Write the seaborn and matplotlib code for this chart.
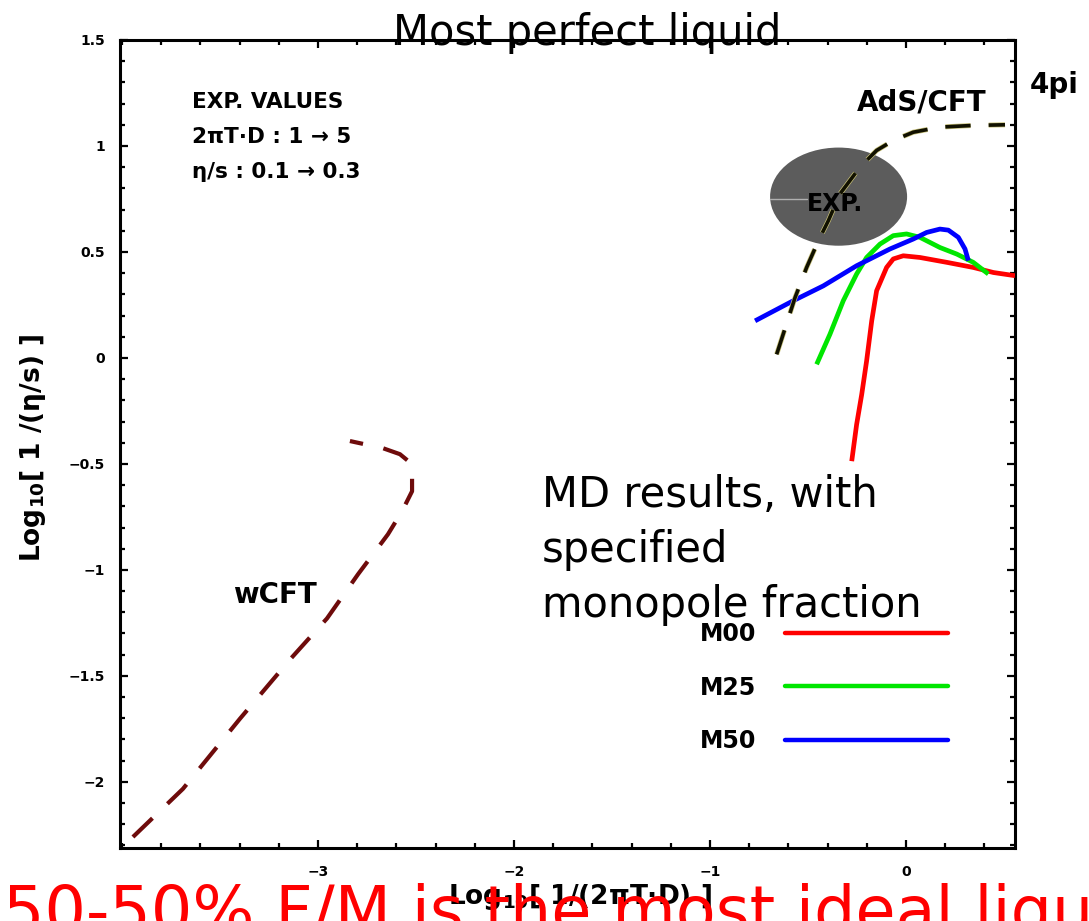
import matplotlib
matplotlib.use("Agg")
import matplotlib.pyplot as plt
from matplotlib.patches import Ellipse
from matplotlib.lines import Line2D
from matplotlib.ticker import MultipleLocator
import matplotlib.patheffects as pe
import numpy as np
import pandas as pd
import seaborn as sns

# ---- curves: log10(1/(2 pi T D)) vs log10(1/(eta/s)) ----
m00_x = [-0.277, -0.252, -0.226, -0.201, -0.175, -0.150, -0.099, -0.065, -0.014, 0.071, 0.208, 0.343, 0.446, 0.556]
m00_y = [-0.487, -0.314, -0.172, -0.014, 0.175, 0.317, 0.427, 0.467, 0.482, 0.474, 0.451, 0.427, 0.403, 0.388]

m25_x = [-0.456, -0.388, -0.320, -0.252, -0.201, -0.133, -0.065, 0.003, 0.071, 0.173, 0.259, 0.343, 0.420]
m25_y = [-0.030, 0.112, 0.270, 0.396, 0.474, 0.537, 0.577, 0.585, 0.569, 0.521, 0.490, 0.451, 0.396]

m50_x = [-0.770, -0.575, -0.422, -0.252, -0.082, 0.037, 0.105, 0.173, 0.216, 0.267, 0.301, 0.318]
m50_y = [0.175, 0.270, 0.340, 0.435, 0.514, 0.561, 0.592, 0.608, 0.603, 0.569, 0.514, 0.459]

ads_x = [-0.660, -0.566, -0.507, -0.447, -0.396, -0.337, -0.235, -0.150, -0.065, 0.037, 0.173, 0.343, 0.505]
ads_y = [0.017, 0.285, 0.427, 0.553, 0.648, 0.774, 0.900, 0.979, 1.026, 1.065, 1.089, 1.097, 1.100]

wcft_x = [-3.944, -3.689, -3.398, -3.143, -2.954, -2.796, -2.643, -2.571, -2.520, -2.520, -2.582, -2.668, -2.837]
wcft_y = [-2.260, -2.033, -1.702, -1.423, -1.229, -1.021, -0.832, -0.723, -0.629, -0.501, -0.454, -0.426, -0.392]

# experimental region (ellipse centre and extent)
exp_center = (-0.344, 0.761)
exp_width = 0.699
exp_height = 0.463

series_labels = ["M00", "M25", "M50"]
series_colors = ["#ff0000", "#00e600", "#0000ff"]

x_ticks = [-3, -2, -1, 0]
x_ticklabels = ["\u22123", "\u22122", "\u22121", "0"]
y_ticks = [-2, -1.5, -1, -0.5, 0, 0.5, 1, 1.5]
y_ticklabels = ["\u22122", "\u22121.5", "\u22121", "\u22120.5", "0", "0.5", "1", "1.5"]

md_lines = ["MD results, with", "specified", "monopole fraction"]

sns.set_style("ticks")
plt.rcParams["font.family"] = ["DejaVu Sans"]
plt.rcParams.update({"text.color": "black", "axes.labelcolor": "black",
                     "xtick.color": "black", "ytick.color": "black",
                     "axes.edgecolor": "black"})

W, H = 1089, 921
fig = plt.figure(figsize=(W / 100, H / 100), dpi=100)
ax = fig.add_axes([120 / W, 1 - 848 / H, 895 / W, 808 / H])
ax.set_xlim(-4.01, 0.556)
ax.set_ylim(-2.312, 1.5)

# experimental ellipse
ell = Ellipse(exp_center, exp_width, exp_height, facecolor="#5c5c5c", edgecolor="none", zorder=1)
ax.add_patch(ell)
exp_text_x = -0.505
ax.plot([exp_center[0] - exp_width / 2, exp_text_x], [exp_center[1] - 0.01] * 2,
        color="#b0b0b0", lw=1.0, zorder=1.5)
ax.text(exp_text_x, exp_center[1] - 0.066, "EXP.", fontsize=17, fontweight="bold",
        ha="left", va="baseline", zorder=5)

# MD results
for xs, ys, lab, col in zip([m00_x, m25_x, m50_x], [m00_y, m25_y, m50_y], series_labels, series_colors):
    df = pd.DataFrame({"x": xs, "y": ys})
    sns.lineplot(data=df, x="x", y="y", sort=False, estimator=None, color=col,
                 lw=3.4, ax=ax, zorder=3, solid_capstyle="butt", solid_joinstyle="round")

# AdS/CFT dashed curve
df_ads = pd.DataFrame({"x": ads_x, "y": ads_y})
sns.lineplot(data=df_ads, x="x", y="y", sort=False, estimator=None, color="#111100",
             lw=2.6, ax=ax, zorder=4)
ads_line = ax.lines[-1]
ads_line.set_dashes((7, 5))
ads_line.set_path_effects([pe.Stroke(linewidth=3.6, foreground="#c9c27a"), pe.Normal()])

# weak coupling curve
df_w = pd.DataFrame({"x": wcft_x, "y": wcft_y})
sns.lineplot(data=df_w, x="x", y="y", sort=False, estimator=None, color="#6e0b0b",
             lw=3.0, ax=ax, zorder=4)
ax.lines[-1].set_dashes((6.5, 5))

# axis styling
for sp in ax.spines.values():
    sp.set_linewidth(2.2)
    sp.set_color("black")
    sp.set_visible(True)
ax.set_xticks(x_ticks)
ax.set_xticklabels(x_ticklabels)
ax.set_yticks(y_ticks)
ax.set_yticklabels(y_ticklabels)
ax.xaxis.set_minor_locator(MultipleLocator(0.2))
ax.yaxis.set_minor_locator(MultipleLocator(0.1))
ax.tick_params(which="both", direction="in", top=True, right=True, width=1.6, color="black")
ax.tick_params(which="major", length=6)
ax.tick_params(which="minor", length=3.5)
ax.tick_params(axis="x", which="major", pad=12, labelsize=10)
ax.tick_params(axis="y", which="major", pad=11, labelsize=10)
for t in ax.get_xticklabels() + ax.get_yticklabels():
    t.set_fontweight("bold")

ax.set_xlabel(r"$\mathbf{Log_{10}}$[ 1/(2πT·D) ]", fontsize=19, fontweight="bold", va="center")
ax.xaxis.set_label_coords((580 - 120) / 895, -(897 - 848) / 808)
ax.set_ylabel(r"$\mathbf{Log_{10}}$[ 1 /(η/s) ]", fontsize=19, fontweight="bold", va="center")
ax.yaxis.set_label_coords((33 - 120) / 895, (848 - 448) / 808)

# annotations placed in figure pixels
def px(xp, yp):
    return (xp / W, 1 - yp / H)

fig.text(*px(192, 108), "EXP. VALUES", fontsize=15.5, fontweight="bold", va="baseline")
fig.text(*px(192, 143), "2πT·D : 1 → 5", fontsize=15.5, fontweight="bold", va="baseline")
fig.text(*px(192, 178), "η/s : 0.1 → 0.3", fontsize=15.5, fontweight="bold", va="baseline")
fig.text(*px(857, 110), "AdS/CFT", fontsize=20, fontweight="bold", va="baseline")
fig.text(*px(233, 603), "wCFT", fontsize=20, fontweight="bold", va="baseline")
fig.text(*px(1030, 93), "4pi", fontsize=20, fontweight="bold", va="baseline")

fig.text(*px(587, 45), "Most perfect liquid", fontsize=30, ha="center", va="baseline")
for i, line in enumerate(md_lines):
    fig.text(*px(542, 507 + 55 * i), line, fontsize=30, ha="left", va="baseline", zorder=6)

# legend for the MD runs
handles = [Line2D([], [], color=c, lw=3.2) for c in series_colors]
leg = ax.legend(handles, series_labels, loc="upper left",
                bbox_to_anchor=px(700, 622), bbox_transform=fig.transFigure,
                frameon=False, markerfirst=False, borderpad=0, borderaxespad=0,
                handlelength=6.9, handletextpad=1.2, labelspacing=1.25,
                prop={"weight": "bold", "size": 17})
for t in leg.get_texts():
    t.set_color("black")

fig.text(*px(3, 933), "50-50% F/M is the most ideal liquid", fontsize=47, color="#ff0000",
         ha="left", va="baseline", zorder=10)

fig.savefig("out.png", dpi=100)
